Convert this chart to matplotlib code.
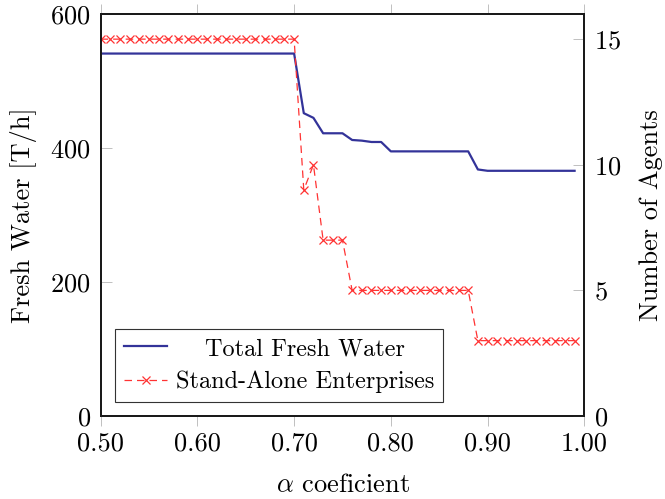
import numpy as np
import matplotlib
matplotlib.use("Agg")
import matplotlib.pyplot as plt

plt.rcParams['font.family'] = ['cmr10', 'DejaVu Serif']
plt.rcParams['mathtext.fontset'] = 'cm'
plt.rcParams['axes.formatter.use_mathtext'] = True

# alpha coefficient sweep 0.50 .. 0.99
alpha = [0.50, 0.51, 0.52, 0.53, 0.54, 0.55, 0.56, 0.57, 0.58, 0.59,
         0.60, 0.61, 0.62, 0.63, 0.64, 0.65, 0.66, 0.67, 0.68, 0.69,
         0.70, 0.71, 0.72, 0.73, 0.74, 0.75, 0.76, 0.77, 0.78, 0.79,
         0.80, 0.81, 0.82, 0.83, 0.84, 0.85, 0.86, 0.87, 0.88, 0.89,
         0.90, 0.91, 0.92, 0.93, 0.94, 0.95, 0.96, 0.97, 0.98, 0.99]

fresh_water = [541] * 21 + [452, 445, 422, 422, 422, 412, 411, 409, 409] \
    + [395] * 9 + [368] + [366] * 10

stand_alone = [15] * 21 + [9, 10, 7, 7, 7] + [5] * 13 + [3] * 11

fig = plt.figure(figsize=(6.65, 4.99), dpi=100)
ax = fig.add_axes([0.1514, 0.1663, 0.7272, 0.8056])
ax2 = ax.twinx()

l1, = ax.plot(alpha, fresh_water, color='#333399', lw=1.6, label='Total Fresh Water')
l2, = ax2.plot(alpha, stand_alone, color='#ff3333', lw=0.9, ls=(0, (6, 4)),
               marker='x', ms=6, mew=0.9, label='Stand-Alone Enterprises')

ax.set_xlim(0.5, 1.0)
ax.set_ylim(0, 600)
ax2.set_ylim(0, 16)
ax.set_xticks([0.5, 0.6, 0.7, 0.8, 0.9, 1.0])
ax.set_xticklabels(['0.50', '0.60', '0.70', '0.80', '0.90', '1.00'])
ax.set_yticks([0, 200, 400, 600])
ax2.set_yticks([0, 5, 10, 15])

fs = 19
ax.tick_params(axis='x', direction='out', length=7, width=0.7, color='#c0c0c0',
               labelsize=fs, pad=4, top=True)
ax.tick_params(axis='y', direction='in', length=8, width=0.7, color='#c0c0c0',
               labelsize=fs, pad=7)
ax2.tick_params(axis='y', direction='in', length=8, width=0.7, color='#c0c0c0',
                labelsize=fs, pad=7)

for a in (ax, ax2):
    for s in a.spines.values():
        s.set_linewidth(1.4)
        s.set_color('#1a1a1a')

ax.set_xlabel(r'$\alpha$ coeficient', fontsize=fs, labelpad=13)
ax.set_ylabel('Fresh Water [T/h]', fontsize=fs, labelpad=10)
ax2.set_ylabel('Number of Agents', fontsize=fs, labelpad=13)

leg = ax2.legend([l1, l2], [l1.get_label(), l2.get_label()], loc='lower left',
                 bbox_to_anchor=(0.03, 0.035), borderaxespad=0, fontsize=17.5,
                 fancybox=False, framealpha=1, edgecolor='#333333',
                 handlelength=1.8, borderpad=0.35, labelspacing=0.45,
                 handletextpad=0.35)
leg.get_frame().set_linewidth(0.8)

# centre the legend texts in their column, like pgfplots does
fig.canvas.draw()
r = fig.canvas.get_renderer()
widths = [t.get_window_extent(r).width for t in leg.get_texts()]
wmax = max(widths)
for t, w in zip(leg.get_texts(), widths):
    t.set_position(((wmax - w) / 2, 0))

fig.savefig('out.png', dpi=100)
